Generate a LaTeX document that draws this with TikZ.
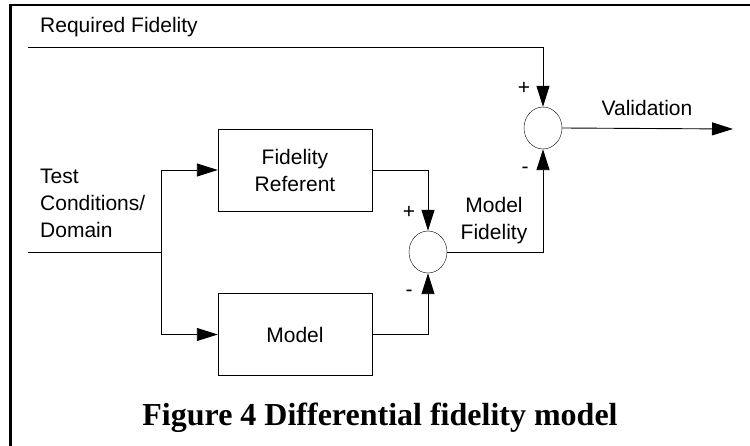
\documentclass[tikz,border=0pt]{standalone}
\usepackage{fontspec}
\setmainfont{Liberation Serif}
\setsansfont{Liberation Sans}
\usetikzlibrary{arrows.meta,shapes.geometric}

\tikzset{
    lbl/.style={font=\sffamily\fontsize{21}{27}\selectfont, inner sep=0pt},
    blockbox/.style={draw, lbl, minimum width=154pt, minimum height=82pt, align=center},
    sumnode/.style={draw, ellipse, minimum width=38pt, minimum height=42pt, inner sep=0pt},
    flow/.style={line width=0.9pt, -{Triangle[length=21pt,width=13pt]}},
    wire/.style={line width=0.9pt}
}

\begin{document}
\begin{tikzpicture}[x=1pt, y=-1pt]
    \useasboundingbox (0,0) rectangle (750,446);
    \draw[line width=2.5pt] (750,5) -- (10.5,5) -- (10.5,446);

    \node[blockbox] (referent) at (295,170) {Fidelity\\Referent};
    \node[blockbox] (model) at (295,334.5) {Model};
    \node[sumnode] (diff) at (428,252) {};
    \node[sumnode] (valid) at (543,128) {};

    \coordinate (reqin) at (28,47);
    \coordinate (testin) at (28,252);
    \coordinate (split) at (161,252);
    \coordinate (out) at (733,129);

    \node[lbl, anchor=base west] (reqlabel) at (40,33) {Required Fidelity};
    \node[lbl, anchor=west, align=left] (testlabel) at (40,203) {Test\\Conditions/\\Domain};
    \node[lbl] (vallabel) at (647,108) {Validation};
    \node[lbl, align=center] (fidlabel) at (494,221) {Model\\Fidelity};
    \node[lbl] (plusvalid) at (524,88) {+};
    \node[lbl] (minusvalid) at (525,170) {-};
    \node[lbl] (plusdiff) at (409,212) {+};
    \node[lbl] (minusdiff) at (409,293) {-};

    \draw[flow] (reqin) -| (valid.north);
    \draw[wire] (testin) -- (split);
    \draw[flow] (split) |- (referent.west);
    \draw[flow] (split) |- (model.west);
    \draw[flow] (referent.east) -| (diff.north);
    \draw[flow] (model.east) -| (diff.south);
    \draw[flow] (diff.east) -| (valid.south);
    \draw[flow] (valid.east) -- (out);

    \node[font=\bfseries\fontsize{32}{36}\selectfont, anchor=base] (caption) at (380,425) {Figure 4 Differential fidelity model};
\end{tikzpicture}
\end{document}
